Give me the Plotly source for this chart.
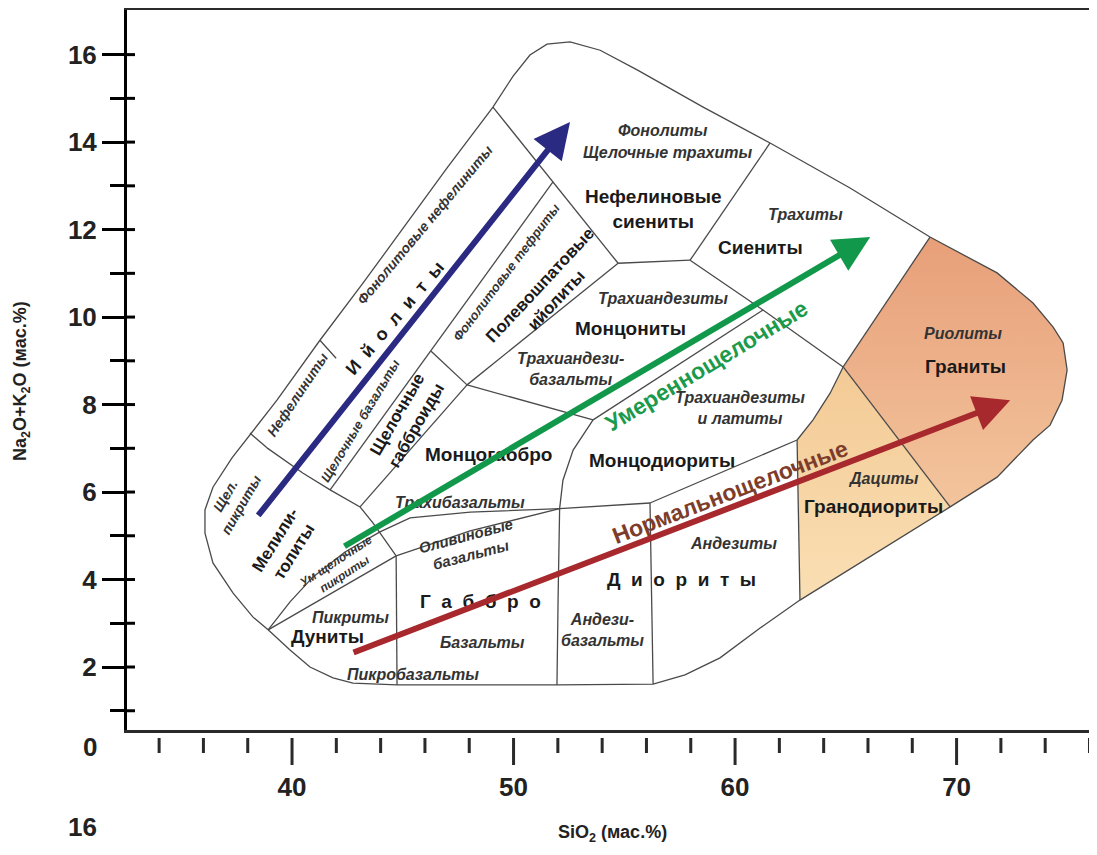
import plotly.graph_objects as go

# ---------------- axes ----------------
x_range = [32.55, 76.70]
y_range = [0.56, 17.02]
y_major_ticks = [2, 4, 6, 8, 10, 12, 14, 16]
y_minor_ticks = [1, 3, 5, 7, 9, 11, 13, 15]
x_major_ticks = [40, 50, 60, 70]
x_minor_ticks = [34, 36, 38, 42, 44, 46, 48, 52, 54, 56, 58, 62, 64, 66, 68, 72, 74, 76]

# ---------------- field boundaries (SiO2, Na2O+K2O, wt%) ----------------
outer_sio2 = [38.92, 38.24, 37.34, 36.43, 36.07, 36.07, 36.43, 37.29, 39.32, 41.26, 43.21, 44.88,
              47.00, 49.07, 49.98, 50.74, 51.51, 52.55, 53.91, 55.58, 58.56, 61.58, 65.19, 68.80,
              71.83, 73.45, 74.36, 74.81, 74.99, 74.76, 74.22, 73.45, 71.83, 69.71, 66.55, 62.93,
              61.13, 59.32, 57.74, 56.30, 51.96, 44.74, 42.75, 41.85, 40.81, 39.91, 38.92]
outer_alk = [2.85, 3.14, 3.69, 4.38, 5.06, 5.59, 6.11, 6.78, 8.10, 9.47, 10.78, 11.94,
             13.41, 14.80, 15.51, 15.99, 16.24, 16.29, 16.10, 15.65, 14.80, 13.98, 12.95, 11.83,
             11.01, 10.32, 9.77, 9.41, 8.79, 8.10, 7.53, 7.19, 6.34, 5.66, 4.67, 3.53,
             2.89, 2.21, 1.82, 1.61, 1.59, 1.59, 1.63, 1.75, 2.00, 2.39, 2.85]

granite_sio2 = [68.80, 71.83, 73.45, 74.36, 74.81, 74.99, 74.76, 74.22, 73.45, 71.83, 69.71, 64.88, 68.80]
granite_alk = [11.83, 11.01, 10.32, 9.77, 9.41, 8.79, 8.10, 7.53, 7.19, 6.34, 5.66, 8.86, 11.83]
granodiorite_sio2 = [64.88, 69.71, 66.55, 62.93, 62.80, 63.52, 64.29, 64.88]
granodiorite_alk = [8.86, 5.66, 4.67, 3.53, 7.19, 7.65, 8.26, 8.86]

c1_sio2, c1_alk = [38.10, 38.87], [7.35, 7.01]
c2_sio2, c2_alk = [41.26, 41.99], [9.47, 9.06]
melil_sio2 = [38.87, 40.50, 41.72, 43.07, 43.66, 44.20, 44.70]
melil_alk = [7.01, 6.43, 6.05, 5.66, 5.29, 4.90, 4.54]
foid_sio2, foid_alk = [41.72, 51.78], [6.05, 13.09]
tephr_sio2, tephr_alk = [46.28, 47.90], [9.22, 8.45]
alkgab_sio2, alkgab_alk = [43.07, 47.90], [5.66, 8.45]
phon_sio2, phon_alk = [49.07, 54.72], [14.80, 11.23]
nsyen_sio2, nsyen_alk = [54.72, 57.97], [11.23, 11.30]
trach_sio2, trach_alk = [57.97, 61.58], [11.30, 13.98]
syen_sio2, syen_alk = [57.97, 61.26, 64.88], [11.30, 10.16, 8.86]
gran_sio2, gran_alk = [64.88, 68.80], [8.86, 11.83]
grd_top_sio2, grd_top_alk = [64.88, 64.29, 63.52, 62.80], [8.86, 8.26, 7.65, 7.19]
dac_sio2, dac_alk = [64.88, 69.71], [8.86, 5.66]
monz_sio2, monz_alk = [54.72, 47.90], [11.23, 8.45]
tab_sio2, tab_alk = [47.90, 53.59], [8.45, 7.65]
latit_sio2, latit_alk = [53.59, 61.26], [7.65, 10.16]
mdior_sio2 = [53.59, 52.69, 52.23, 52.08, 52.01, 51.96]
mdior_alk = [7.65, 6.96, 6.27, 5.62, 3.53, 1.59]
pic_sio2, pic_alk = [38.92, 44.70], [2.85, 4.54]
umpic_sio2 = [38.92, 39.91, 40.95, 42.39, 43.97, 45.33, 48.04, 52.08]
umpic_alk = [2.85, 3.49, 4.06, 4.63, 5.09, 5.41, 5.54, 5.62]
olbas_sio2, olbas_alk = [44.70, 48.04, 52.08], [4.54, 5.11, 5.62]
v45_sio2, v45_alk = [44.70, 44.74], [4.54, 1.59]
tb_sio2, tb_alk = [52.08, 56.16], [5.62, 5.75]
and_top_sio2, and_top_alk = [56.16, 62.80], [5.75, 7.19]
v57_sio2, v57_alk = [56.16, 56.30], [5.75, 1.61]
v63_sio2, v63_alk = [62.80, 62.93], [7.19, 3.53]

# ---------------- trend arrows (start -> tip) ----------------
arrow_names = ["щелочные", "умереннощелочные", "нормальнощелочные"]
arrow_start_sio2 = [38.42, 42.30, 42.71]
arrow_start_alk = [5.43, 4.74, 2.32]
arrow_tip_sio2 = [52.55, 66.10, 72.42]
arrow_tip_alk = [14.46, 11.83, 8.10]

# ---------------- labels ----------------
volc_names = ["Фонолиты", "Щелочные трахиты", "Трахиты", "Трахиандезиты", "Трахиандези-<br>базальты",
              "Трахиандезиты<br>и латиты", "Трахибазальты", "Базальты", "Пикробазальты",
              "Андези-<br>базальты", "Андезиты", "Дациты", "Риолиты", "Пикриты"]
volc_sio2 = [56.75, 56.93, 63.16, 56.75, 52.55, 60.23, 47.58, 48.62, 45.46, 54.00, 59.91, 66.68, 70.29, 42.62]
volc_alk = [14.27, 13.77, 12.35, 10.43, 8.81, 7.92, 5.77, 2.55, 1.82, 2.85, 4.83, 6.32, 9.63, 3.14]

plut_names = ["Нефелиновые<br>сиениты", "Сиениты", "Монцониты", "Монцодиориты", "Монцогаббро",
              "Гранодиориты", "Граниты", "Дуниты", "Габбро", "Диориты"]
plut_sio2 = [56.30, 61.13, 55.26, 56.70, 48.89, 66.23, 70.38, 41.58, 48.49, 57.56]
plut_alk = [12.48, 11.58, 9.75, 6.71, 6.85, 5.66, 8.86, 2.69, 3.49, 3.99]
plut_spaced = [False, False, False, False, False, False, False, False, True, True]

rot_names = ["Оливиновые<br>базальты", "Ум щелочные<br>пикриты", "Мелили-<br>толиты", "Щел.<br>пикриты",
             "Нефелиниты", "Фонолитовые нефелиниты", "Ийолиты", "Щелочные базальты",
             "Щелочные<br>габброиды", "Фонолитовые тефриты", "Полевошпатовые<br>ийолиты"]
rot_sio2 = [47.95, 42.17, 39.68, 37.34, 40.23, 45.99, 44.65, 43.05, 45.20, 49.66, 51.56]
rot_alk = [4.77, 4.26, 4.77, 5.82, 8.22, 12.10, 9.98, 7.62, 7.65, 11.03, 10.57]
rot_angle = [-15, -33, -58, -60, -56, -50, -50, -59, -60, -53, -47]

trend_labels = ["Умереннощелочные", "Нормальнощелочные"]
trend_sio2 = [58.69, 59.77]
trend_alk = [8.88, 6.00]
trend_angle = [-31, -21]

# ---------------- styles / page geometry ----------------
FONT = "Liberation Sans, Arial, sans-serif"
LINE_COL = "#4a4a4a"
AX_COL = "#2a2a2a"
BODY = 8                       # default body margin of the html page
W, H = 1097, 855
PL, PT, PB = 127, 10, 730      # wanted absolute plot-area left / top / bottom (px)
ML, MT, MR = PL - BODY, PT - BODY, 0
MB = H + BODY - PB
plot_w, plot_h = W - ML - MR, H - MT - MB


def px_x(px):
    return (px - PL) / plot_w


def px_y(py):
    return (PB - py) / plot_h


fig = go.Figure()


def add_fill(xs, ys, c_low, c_high):
    fig.add_trace(go.Scatter(x=xs, y=ys, mode="lines", fill="toself",
                             fillgradient=dict(type="vertical", colorscale=[[0, c_low], [1, c_high]]),
                             line=dict(width=0), hoverinfo="skip", showlegend=False))


add_fill(granite_sio2, granite_alk, "#F3C59D", "#E79F79")
add_fill(granodiorite_sio2, granodiorite_alk, "#FADFB4", "#F3CA95")

boundaries = [
    (outer_sio2, outer_alk), (c1_sio2, c1_alk), (c2_sio2, c2_alk), (melil_sio2, melil_alk),
    (foid_sio2, foid_alk), (tephr_sio2, tephr_alk), (alkgab_sio2, alkgab_alk), (phon_sio2, phon_alk),
    (nsyen_sio2, nsyen_alk), (trach_sio2, trach_alk), (syen_sio2, syen_alk), (gran_sio2, gran_alk),
    (grd_top_sio2, grd_top_alk), (dac_sio2, dac_alk), (monz_sio2, monz_alk), (tab_sio2, tab_alk),
    (latit_sio2, latit_alk), (mdior_sio2, mdior_alk), (pic_sio2, pic_alk), (umpic_sio2, umpic_alk),
    (olbas_sio2, olbas_alk), (v45_sio2, v45_alk), (tb_sio2, tb_alk), (and_top_sio2, and_top_alk),
    (v57_sio2, v57_alk), (v63_sio2, v63_alk),
]
for xs, ys in boundaries:
    fig.add_trace(go.Scatter(x=xs, y=ys, mode="lines", line=dict(color=LINE_COL, width=1.3),
                             hoverinfo="skip", showlegend=False))

shapes = []
# x-axis tick marks, detached below the axis line as in the original
for v in x_minor_ticks:
    shapes.append(dict(type="line", xref="x", yref="paper", x0=v, x1=v,
                       y0=-8 / plot_h, y1=-23 / plot_h, line=dict(color=AX_COL, width=3)))
for v in x_major_ticks:
    shapes.append(dict(type="line", xref="x", yref="paper", x0=v, x1=v,
                       y0=-8 / plot_h, y1=-35 / plot_h, line=dict(color=AX_COL, width=3)))
# inner part of the y ticks (ticks cross the axis line)
for v in y_major_ticks + y_minor_ticks:
    shapes.append(dict(type="line", xref="paper", yref="y", x0=0, x1=8 / plot_w, y0=v, y1=v,
                       line=dict(color="black", width=3)))

ann = []
volc_font = dict(family=FONT, size=16, color="#333333", style="italic", weight="bold")
plut_font = dict(family=FONT, size=19, color="#1a1a1a", weight="bold")
for n, x, y in zip(volc_names, volc_sio2, volc_alk):
    ann.append(dict(x=x, y=y, text=n, showarrow=False, font=volc_font))
for n, x, y, sp in zip(plut_names, plut_sio2, plut_alk, plut_spaced):
    t = "\u00a0\u00a0".join(n) if sp else n
    ann.append(dict(x=x, y=y, text=t, showarrow=False, font=plut_font))

rot_styles = [("i", 15), ("i", 12), ("b", 17), ("i", 14), ("i", 14), ("i", 14), ("bs", 18),
              ("i", 13), ("b", 17), ("i", 13), ("b", 17)]
for n, x, y, a, (k, s) in zip(rot_names, rot_sio2, rot_alk, rot_angle, rot_styles):
    if k == "i":
        f = dict(family=FONT, size=s, color="#333333", style="italic", weight="bold")
    else:
        f = dict(family=FONT, size=s, color="#1a1a1a", weight="bold")
    t = "\u00a0\u00a0".join(n) if k == "bs" else n
    ann.append(dict(x=x, y=y, text=t, showarrow=False, font=f, textangle=a))

trend_colors = ["#1C9A4C", "#7E3D2B"]
for n, x, y, a, c in zip(trend_labels, trend_sio2, trend_alk, trend_angle, trend_colors):
    ann.append(dict(x=x, y=y, text=n, showarrow=False, textangle=a,
                    font=dict(family=FONT, size=23, color=c, weight="bold")))

arrow_colors = ["#2B2A82", "#12984A", "#A8292D"]
for sx, sy, tx, ty, c in zip(arrow_start_sio2, arrow_start_alk, arrow_tip_sio2, arrow_tip_alk, arrow_colors):
    ann.append(dict(x=tx, y=ty, ax=sx, ay=sy, axref="x", ayref="y", xref="x", yref="y", text="",
                    showarrow=True, arrowhead=2, arrowsize=1.2, arrowwidth=6, arrowcolor=c,
                    standoff=0, startstandoff=0))

# axis titles and stray labels of the original figure
common = dict(xref="paper", yref="paper", showarrow=False, xanchor="center", yanchor="middle")
ann.append(dict(common, x=px_x(22), y=px_y(381), text="Na<sub>2</sub>O+K<sub>2</sub>O (мас.%)",
                textangle=-90, font=dict(family=FONT, size=18, color="#222", weight="bold")))
ann.append(dict(common, x=px_x(612), y=px_y(833), text="SiO<sub>2</sub> (мас.%)",
                font=dict(family=FONT, size=18, color="#222", weight="bold")))
ann.append(dict(common, x=px_x(90), y=px_y(747), text="0",
                font=dict(family=FONT, size=26, color="#222", weight="bold")))
ann.append(dict(common, x=px_x(82), y=px_y(827), text="16",
                font=dict(family=FONT, size=26, color="#222", weight="bold")))

fig.update_layout(
    width=W, height=H, margin=dict(l=ML, r=MR, t=MT, b=MB),
    paper_bgcolor="white", plot_bgcolor="white", showlegend=False, hovermode=False,
    annotations=ann, shapes=shapes,
    xaxis=dict(range=x_range, showgrid=False, zeroline=False, showline=True, linewidth=3,
               linecolor=AX_COL, mirror=True, tickvals=x_major_ticks, ticks="outside", ticklen=32,
               tickcolor="rgba(0,0,0,0)", automargin=False,
               tickfont=dict(family=FONT, size=26, color="#222", weight="bold")),
    yaxis=dict(range=y_range, showgrid=False, zeroline=False, showline=True, linewidth=3,
               linecolor="black", tickvals=y_major_ticks, ticks="outside", ticklen=22, tickwidth=3,
               tickcolor="black", automargin=False,
               minor=dict(tickvals=y_minor_ticks, ticks="outside", ticklen=14, tickwidth=3, tickcolor="black"),
               tickfont=dict(family=FONT, size=26, color="#222", weight="bold")),
)

fig.write_html("out.html")
